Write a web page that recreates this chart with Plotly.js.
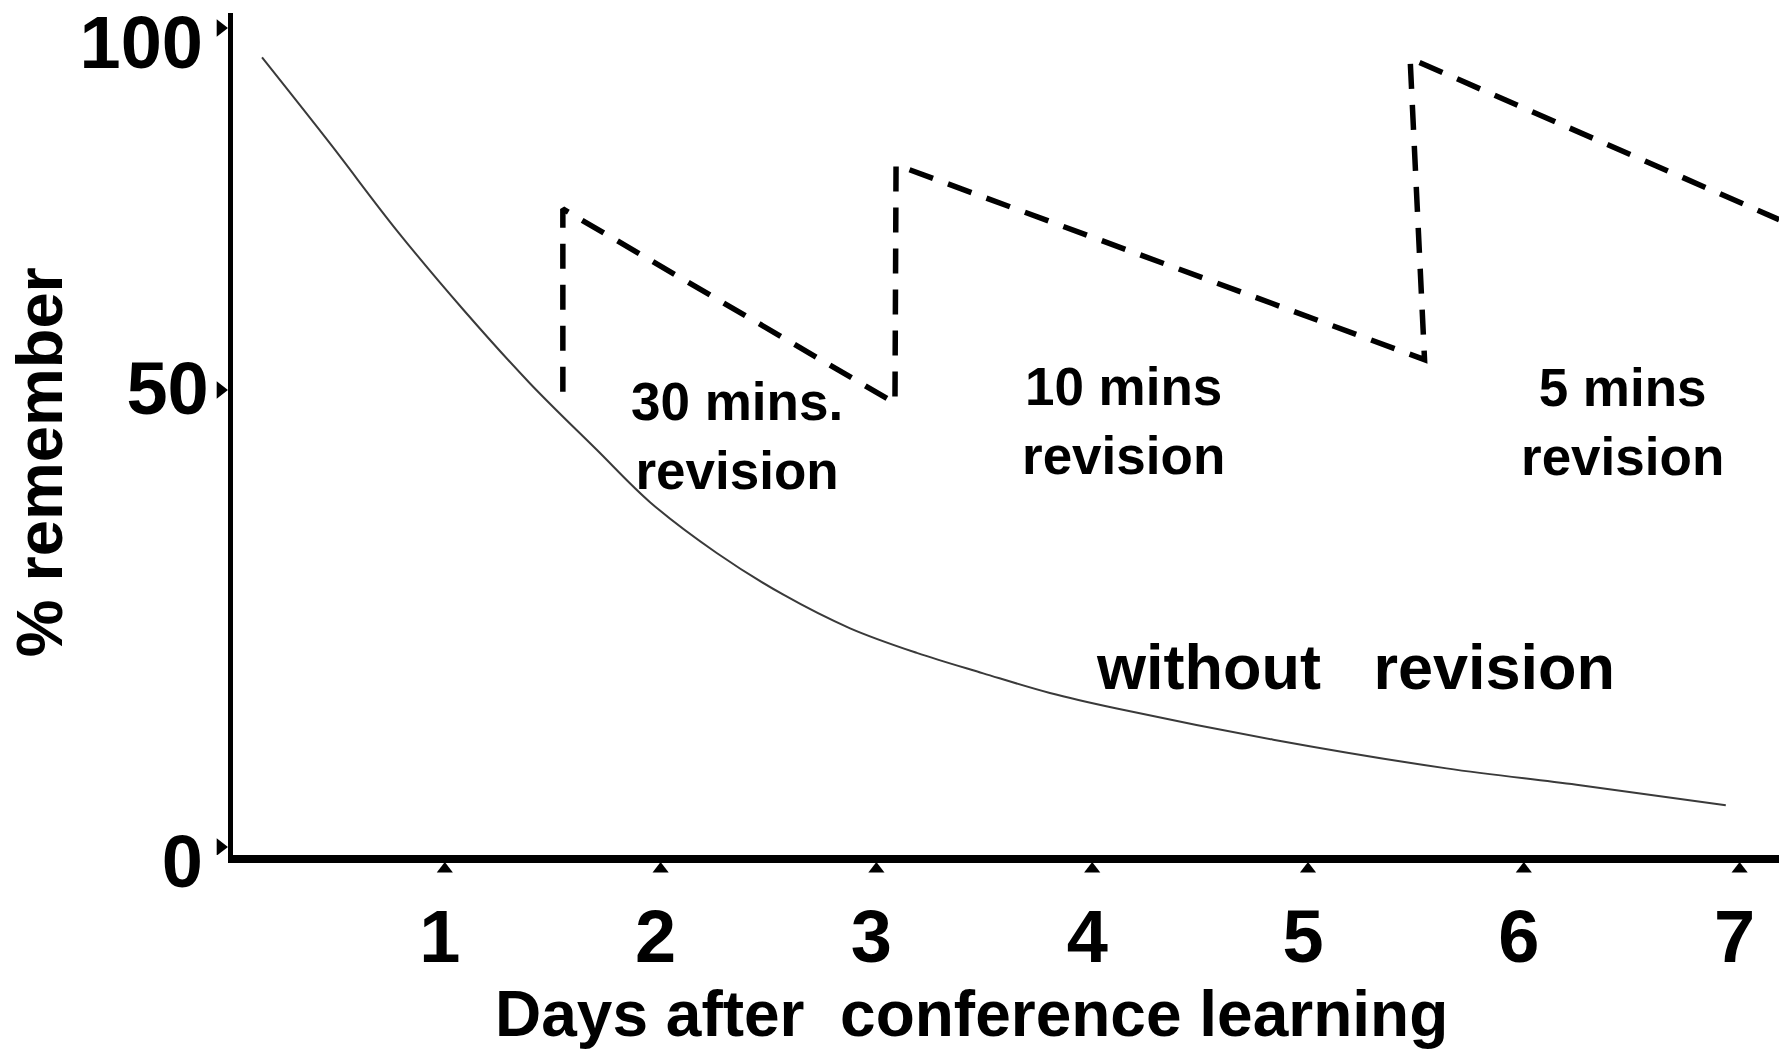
<!DOCTYPE html>
<html>
<head>
<meta charset="utf-8">
<script src="https://cdn.plot.ly/plotly-3.0.1.min.js"></script>
<style>
  html, body { margin: 0; padding: 0; background: #ffffff; }
  #chart { width: 1779px; height: 1051px; }
</style>
</head>
<body>
<div id="chart"></div>
<script>
// ---- data ----
// "without revision" forgetting curve
const daysWithout = [0.153, 0.468, 0.777, 1.086, 1.395, 1.704, 1.951, 2.260, 2.569, 2.878, 3.187, 3.495, 3.804, 4.114, 4.839, 5.642, 6.244, 6.936];
const rememberWithout = [96.4, 85.9, 75.3, 65.6, 56.6, 48.5, 42.1, 35.9, 30.8, 26.7, 23.7, 21.2, 18.8, 16.9, 13.1, 9.6, 7.6, 5.1];

// dashed "with revision" saw-tooth
const daysRevision = [1.547, 1.547, 3.086, 3.091, 5.540, 5.473, 7.183];
const rememberRevision = [55.6, 77.9, 54.2, 83.3, 59.5, 96.3, 76.6];

// axes ticks (the original places its "50" label 55.8% of the way up)
const xTickVals = [1, 2, 3, 4, 5, 6, 7];
const xTickText = ['1', '2', '3', '4', '5', '6', '7'];
const yTickVals = [0, 55.8, 100];
const yTickText = ['0', '50', '100'];

// texts
const xTitle = 'Days after\u00A0\u00A0conference learning';
const yTitle = '% remember';
const label30 = '30 mins.<br>revision';
const label10 = '10 mins<br>revision';
const label5 = '5 mins<br>revision';
const labelWithout = 'without\u00A0\u00A0\u00A0revision';

const FONT = 'Liberation Sans, Arial, Helvetica, sans-serif';

// the original draws the end labels ("0", "100") a little below their tick marks,
// the middle one ("50") level with it: two label axes sharing one scale
const midIdx = [1];
const endIdx = [0, 2];
const yRange = [-0.977, 101.83];

const traces = [
  {
    // drawn on the overlaid y axis (same range as the main one)
    x: daysWithout, y: rememberWithout, xaxis: 'x', yaxis: 'y4',
    type: 'scatter', mode: 'lines',
    line: { color: '#3a3a3a', width: 2, shape: 'spline', smoothing: 1 },
    hoverinfo: 'skip'
  },
  {
    x: daysRevision, y: rememberRevision, xaxis: 'x', yaxis: 'y',
    type: 'scatter', mode: 'lines',
    line: { color: '#000000', width: 5.5, dash: '25px,16px' },
    hoverinfo: 'skip'
  },
  {
    // triangular tick marks under the x axis (thin strip subplot below the plot)
    x: xTickVals, y: xTickVals.map(() => 0.44), xaxis: 'x', yaxis: 'y2',
    type: 'scatter', mode: 'markers',
    marker: { symbol: 'triangle-up', size: 14, color: '#000000' },
    hoverinfo: 'skip'
  },
  {
    // triangular tick marks left of the y axis (thin strip subplot left of the plot)
    x: yTickVals.map(() => 0.62), y: yTickVals, xaxis: 'x3', yaxis: 'y',
    type: 'scatter', mode: 'markers',
    marker: { symbol: 'triangle-right', size: 15, color: '#000000' },
    hoverinfo: 'skip'
  }
];

const yLabelFont = { family: FONT, size: 74, weight: 700, color: '#000000' };

const layout = {
  width: 1779, height: 1051,
  margin: { l: 200, r: 0, t: 13, b: 171, pad: 0 },
  paper_bgcolor: '#ffffff', plot_bgcolor: '#ffffff',
  showlegend: false, hovermode: false,
  font: { family: FONT, color: '#000000' },
  xaxis: {
    domain: [0.0209, 1], anchor: 'y',
    range: [0.0185, 7.1825],
    showline: true, linewidth: 8, linecolor: '#000000',
    showgrid: false, zeroline: false,
    tickmode: 'array', tickvals: xTickVals, ticktext: xTickText,
    ticks: '', ticklabelstandoff: 10, ticklabelshift: -5, ticklabeloverflow: 'allow',
    tickfont: { family: FONT, size: 74, weight: 700, color: '#000000' },
    title: { text: '' }, fixedrange: true
  },
  yaxis: {
    domain: [0.02884, 1], anchor: 'x',
    range: yRange,
    showline: true, linewidth: 5.5, linecolor: '#000000',
    showgrid: false, zeroline: false,
    tickmode: 'array',
    tickvals: midIdx.map(i => yTickVals[i]), ticktext: midIdx.map(i => yTickText[i]),
    ticks: '', ticklabelstandoff: 4, ticklabelshift: -2, ticklabeloverflow: 'allow',
    tickfont: yLabelFont,
    title: { text: '' }, fixedrange: true
  },
  yaxis4: {
    anchor: 'x', overlaying: 'y', side: 'left',
    range: yRange,
    showline: false, showgrid: false, zeroline: false,
    tickmode: 'array',
    tickvals: endIdx.map(i => yTickVals[i]), ticktext: endIdx.map(i => yTickText[i]),
    ticks: '', ticklabelstandoff: 29, ticklabelshift: 14, ticklabeloverflow: 'allow',
    tickfont: yLabelFont,
    title: { text: '' }, fixedrange: true
  },
  yaxis2: {
    domain: [0, 0.02884], anchor: 'x', range: [0, 1],
    visible: false, showgrid: false, zeroline: false, fixedrange: true
  },
  xaxis3: {
    domain: [0, 0.0209], anchor: 'y', range: [0, 1],
    visible: false, showgrid: false, zeroline: false, fixedrange: true
  },
  annotations: [
    { text: xTitle, xref: 'paper', yref: 'paper', x: 0.4889, y: -0.1551, xanchor: 'center', yanchor: 'middle',
      showarrow: false, font: { family: FONT, size: 64, weight: 700, color: '#000000' } },
    { text: yTitle, xref: 'paper', yref: 'paper', x: -0.1020, y: 0.4817, xanchor: 'center', yanchor: 'middle',
      textangle: -90, showarrow: false, font: { family: FONT, size: 65, weight: 700, color: '#000000' } },
    { text: label30, xref: 'x', yref: 'y', x: 2.353, y: 50.2, xanchor: 'center', yanchor: 'middle',
      showarrow: false, font: { family: FONT, size: 53, weight: 700, color: '#000000' } },
    { text: label10, xref: 'x', yref: 'y', x: 4.143, y: 52.0, xanchor: 'center', yanchor: 'middle',
      showarrow: false, font: { family: FONT, size: 53, weight: 700, color: '#000000' } },
    { text: label5, xref: 'x', yref: 'y', x: 6.455, y: 51.9, xanchor: 'center', yanchor: 'middle',
      showarrow: false, font: { family: FONT, size: 53, weight: 700, color: '#000000' } },
    { text: labelWithout, xref: 'x', yref: 'y', x: 5.218, y: 22.0, xanchor: 'center', yanchor: 'middle',
      showarrow: false, font: { family: FONT, size: 63, weight: 700, color: '#000000' } }
  ]
};

Plotly.newPlot('chart', traces, layout, { staticPlot: true, displayModeBar: false, responsive: false });
</script>
</body>
</html>
